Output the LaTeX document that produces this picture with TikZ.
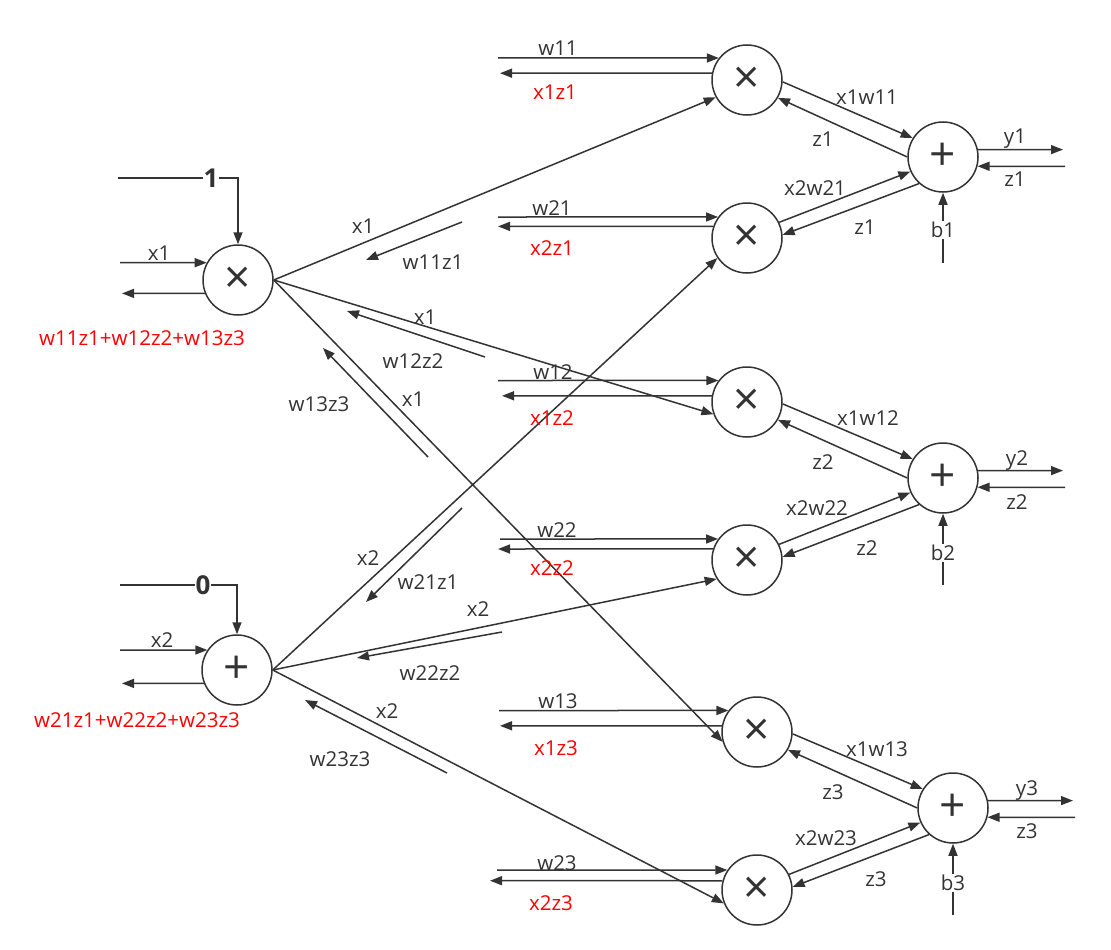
\documentclass[tikz,border=0pt]{standalone}
\usepackage{fontspec}
\setmainfont{Open Sans}
\usetikzlibrary{arrows.meta}
\definecolor{ink}{HTML}{333333}
\newcommand\lblfont{\fontsize{20.5}{22}\selectfont}
\newcommand\opfont{\fontsize{46}{46}\selectfont}
\newcommand\cstfont{\fontsize{26}{26}\selectfont\bfseries}
\tikzset{
  op/.style={circle, draw=ink, line width=1.5pt, minimum size=70pt, inner sep=0pt, font=\opfont},
  grad/.style={text=red},
  cst/.style={font=\cstfont, fill=white, inner sep=1pt},
  gap/.style={fill=white, inner sep=1pt}
}
\begin{document}
\begin{tikzpicture}[x=1pt, y=-1pt, color=ink, line width=1.5pt, every node/.style={font=\lblfont}, >={Triangle[length=12pt,width=9pt]}]
\useasboundingbox (0,0) rectangle (1111,950);
\node[op] (a1) at (238,280) {×}; \node[op] (a2) at (237,670) {+};
\coordinate (k1) at (118,178); \coordinate (k2) at (120,585);
\draw[->] (k1) -- (k1 -| a1) -- (a1); \node[cst] (one) at (211,178) {1};
\draw[->] (k2) -- (k2 -| a2) -- (a2); \node[cst] (zero) at (203,585) {0};
\coordinate (x1i) at (120,262.7); \coordinate (x1o) at (122,293.4);
\draw[->] (x1i) -- (a1.151); \draw[->] (a1.202) -- (x1o);
\node (lx1) at (159,253) {x1}; \node[grad] (g1) at (142,338) {w11z1+w12z2+w13z3};
\coordinate (x2i) at (120,650); \coordinate (x2o) at (122,683.4);
\draw[->] (x2i) -- (a2.146); \draw[->] (a2.202) -- (x2o);
\node (lx2) at (162,640) {x2}; \node[grad] (g2) at (137,720) {w21z1+w22z2+w23z3};

\node[op] (m11) at (747,80) {×}; \node[op] (m21) at (747,238) {×};
\node[op] (m12) at (747,402) {×}; \node[op] (m22) at (747,560) {×};
\node[op] (m13) at (757,732) {×}; \node[op] (m23) at (757,890) {×};
\draw[->] (a1.east) -- (m11.209); \draw[->] (a1.east) -- (m12.200); \draw[->] (a1.east) -- (m13.196);
\draw[->] (a2.east) -- (m21.214); \draw[->] (a2.east) -- (m22.212); \draw[->] (a2.east) -- (m23.202);
\coordinate (r11) at (462,222); \coordinate (s11) at (366,260); \draw[->] (r11) -- (s11);
\coordinate (r12) at (485,357); \coordinate (s12) at (347,311); \draw[->] (r12) -- (s12);
\coordinate (r13) at (428,457); \coordinate (s13) at (323,348); \draw[->] (r13) -- (s13);
\coordinate (r21) at (462,508); \coordinate (s21) at (366,602); \draw[->] (r21) -- (s21);
\coordinate (r22) at (502,632); \coordinate (s22) at (357,658); \draw[->] (r22) -- (s22);
\coordinate (r23) at (447,773); \coordinate (s23) at (305,700); \draw[->] (r23) -- (s23);
\node (f11) at (363,226) {x1}; \node (e11) at (433,262) {w11z1};
\node (f12) at (425,317) {x1}; \node (e12) at (413,361) {w12z2};
\node (f13) at (413,399) {x1}; \node (e13) at (319,404) {w13z3};
\node (f21) at (368,558) {x2}; \node (e21) at (428,582) {w21z1};
\node (f22) at (478,609) {x2}; \node (e22) at (430,673) {w22z2};
\node (f23) at (387,711) {x2}; \node (e23) at (340,759) {w23z3};

\coordinate (w11i) at (498,58); \coordinate (w11o) at (500,73.2);
\draw[->] (w11i) -- (m11.142); \draw[->] (m11.169) -- (w11o);
\node (lw11) at (558,48) {w11}; \node[grad] (gw11) at (555,92) {x1z1};
\coordinate (w21i) at (498,217); \coordinate (w21o) at (498,226.4);
\draw[->] (w21i) -- (m21.144); \draw[->] (m21.161) -- (w21o);
\node (lw21) at (552,208) {w21}; \node[grad] (gw21) at (552,248) {x2z1};
\coordinate (w12i) at (498,380.5); \coordinate (w12o) at (502,395.8);
\draw[->] (w12i) -- (m12.143); \draw[->] (m12.170) -- (w12o);
\node (lw12) at (553,372) {w12}; \node[grad] (gw12) at (552,418) {x1z2};
\coordinate (w22i) at (500,539); \coordinate (w22o) at (498,549);
\draw[->] (w22i) -- (m22.144); \draw[->] (m22.162) -- (w22o);
\node (lw22) at (557,530) {w22}; \node[grad] (gw22) at (552,568) {x2z2};
\coordinate (w13i) at (499,710.5); \coordinate (w13o) at (500,725.8);
\draw[->] (w13i) -- (m13.143); \draw[->] (m13.170) -- (w13o);
\node (lw13) at (558,701) {w13}; \node[grad] (gw13) at (556,748) {x1z3};
\coordinate (w23i) at (497,870); \coordinate (w23o) at (490,880.7);
\draw[->] (w23i) -- (m23.146); \draw[->] (m23.165) -- (w23o);
\node (lw23) at (557,863) {w23}; \node[grad] (gw23) at (551,903) {x2z3};

\node[op] (p1) at (943,157) {+}; \node[op] (p2) at (943,478) {+}; \node[op] (p3) at (953,808) {+};
\draw[->] (m11.357) -- (p1.148); \draw[->] (p1.180) -- (m11.330);
\draw[->] (m21.26) -- (p1.204); \draw[->] (p1.228) -- (m21.5);
\node (h11) at (867,97) {x1w11}; \node (d11) at (823,139) {z1};
\node (h21) at (815,188) {x2w21}; \node (d21) at (865,227) {z1};
\coordinate (y1o) at (1063,149.6); \coordinate (z1i) at (1065,166.3);
\draw[->] (p1.12) -- (y1o); \draw[->] (z1i) -- (p1.345);
\node (ly1) at (1015,139) {y1}; \node (lz1) at (1015,179) {z1};
\coordinate (b1i) at (943,263); \draw[->] (b1i) -- (p1); \node[gap] (lb1) at (943,230) {b1};

\draw[->] (m12.357) -- (p2.148); \draw[->] (p2.180) -- (m12.330);
\draw[->] (m22.26) -- (p2.204); \draw[->] (p2.228) -- (m22.5);
\node (h12) at (868,418) {x1w12}; \node (d12) at (823,462) {z2};
\node (h22) at (817,508) {x2w22}; \node (d22) at (867,548) {z2};
\coordinate (y2o) at (1063,470.6); \coordinate (z2i) at (1065,487.3);
\draw[->] (p2.12) -- (y2o); \draw[->] (z2i) -- (p2.345);
\node (ly2) at (1017,461) {y2}; \node (lz2) at (1017,502) {z2};
\coordinate (b2i) at (943,585); \draw[->] (b2i) -- (p2); \node[gap] (lb2) at (943,553) {b2};

\draw[->] (m13.357) -- (p3.148); \draw[->] (p3.180) -- (m13.330);
\draw[->] (m23.26) -- (p3.204); \draw[->] (p3.228) -- (m23.5);
\node (h13) at (877,749) {x1w13}; \node (d13) at (833,792) {z3};
\node (h23) at (826,838) {x2w23}; \node (d23) at (876,879) {z3};
\coordinate (y3o) at (1073,800.6); \coordinate (z3i) at (1075,817.3);
\draw[->] (p3.12) -- (y3o); \draw[->] (z3i) -- (p3.345);
\node (ly3) at (1027,791) {y3}; \node (lz3) at (1027,831) {z3};
\coordinate (b3i) at (953,915); \draw[->] (b3i) -- (p3); \node[gap] (lb3) at (953,883) {b3};
\end{tikzpicture}
\end{document}
